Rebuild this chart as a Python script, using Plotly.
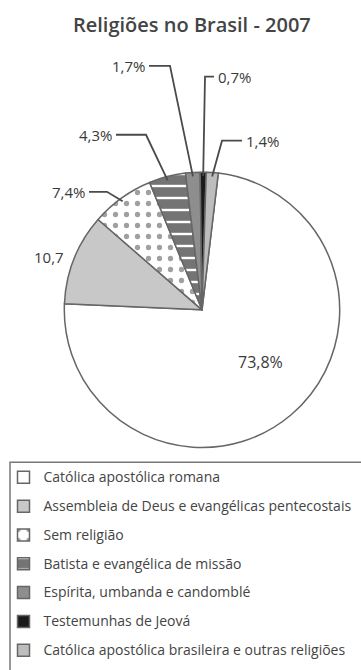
import math
import plotly.graph_objects as go

# Religiões no Brasil - 2007 (% da população)
labels = [
    "Católica apostólica romana",
    "Assembleia de Deus e evangélicas pentecostais",
    "Sem religião",
    "Batista e evangélica de missão",
    "Espírita, umbanda e candomblé",
    "Testemunhas de Jeová",
    "Católica apostólica brasileira e outras religiões",
]
values = [73.8, 10.7, 7.4, 4.3, 1.7, 0.7, 1.4]
value_suffix = ["%", "", "%", "%", "%", "%", "%"]

# slice fills
fill_colors = ["#ffffff", "#c8c8c8", "#ffffff", "#747474", "#8e8e8e", "#1a1a1a", "#bdbdbd"]
pattern_shapes = ["", "", ".", "-", "", "", ""]
pattern_fg = ["#ffffff", "#c8c8c8", "#a0a0a0", "#ffffff", "#8e8e8e", "#1a1a1a", "#bdbdbd"]

W, H = 361, 670
CX, CY, R = 202, 315, 140      # pie centre and radius (px)
ROTATION = 6.8                 # first slice starts this many degrees clockwise from 12 o'clock


def px(x):
    return x / W


def py(y):
    return 1 - y / H


# legend rows are spaced by the legend font's line height; the visible text is set smaller
legend_names = [
    f'<span style="font-size:14px; baseline-shift:3px">{l}</span>' for l in labels
]

fig = go.Figure()
fig.add_trace(go.Pie(
    labels=legend_names,
    values=values,
    sort=False,
    direction="clockwise",
    rotation=ROTATION,
    textinfo="none",
    hoverinfo="label+value",
    domain=dict(x=[px(CX - R), px(CX + R)], y=[py(CY + R), py(CY - R)]),
    marker=dict(
        colors=fill_colors,
        line=dict(color="#666666", width=1.5),
        pattern=dict(
            shape=pattern_shapes,
            bgcolor=fill_colors,
            fgcolor=pattern_fg,
            size=[10, 10, 11, 12, 10, 10, 10],
            solidity=[0.2, 0.2, 0.18, 0.2, 0.2, 0.2, 0.2],
            fillmode="replace",
        ),
    ),
))

# label placement: (anchor x, anchor y, xanchor, font size) and leader elbow (px)
label_pos = [
    (260, 368, "center", 16),
    (49, 261, "center", 15),
    (87, 195, "right", 15),
    (114, 137, "right", 15),
    (147, 67, "right", 15),
    (216, 78, "left", 15),
    (244, 143, "left", 15),
]
leaders = [
    None,
    None,
    [(89, 195), (107, 195)],
    [(116, 137), (146, 137)],
    [(149, 67), (170, 67)],
    [(214, 78), (205, 78)],
    [(242, 143), (222, 143)],
]

total = sum(values)
angle = ROTATION
annotations = []
shapes = []
for v, suf, pos, lead in zip(values, value_suffix, label_pos, leaders):
    span = 360 * v / total
    mid = math.radians(angle + span / 2)
    angle += span
    text = f"{v:.1f}".replace(".", ",") + suf
    annotations.append(dict(
        x=px(pos[0]), y=py(pos[1]), xref="paper", yref="paper",
        text=text, showarrow=False, xanchor=pos[2], yanchor="middle",
        font=dict(family="Open Sans", size=pos[3], color="#3a3a3a"),
    ))
    if lead:
        ex = CX + (R - 4) * math.sin(mid)
        ey = CY - (R - 4) * math.cos(mid)
        pts = lead + [(ex, ey)]
        path = "M " + " L ".join(f"{px(x):.5f},{py(y):.5f}" for x, y in pts)
        shapes.append(dict(type="path", path=path, xref="paper", yref="paper",
                           line=dict(color="#4a4a4a", width=1.8), layer="above"))

annotations.append(dict(
    x=px(192), y=py(25), xref="paper", yref="paper",
    text="Religiões no Brasil - 2007", showarrow=False,
    xanchor="center", yanchor="middle",
    font=dict(family="Open Sans", size=20, color="#444444", weight=600),
))

# legend frame
shapes.append(dict(type="rect", xref="paper", yref="paper",
                   x0=px(10), x1=px(420), y0=py(720), y1=py(470),
                   line=dict(color="#777777", width=1.5), fillcolor="rgba(0,0,0,0)",
                   layer="below"))

fig.update_layout(
    width=W, height=H,
    margin=dict(l=0, r=0, t=0, b=0),
    paper_bgcolor="#ffffff",
    plot_bgcolor="#ffffff",
    annotations=annotations,
    shapes=shapes,
    showlegend=True,
    legend=dict(
        x=px(3.5), y=py(465.6), xanchor="left", yanchor="top",
        font=dict(family="Open Sans", size=19.85, color="#444444"),
        bgcolor="rgba(0,0,0,0)", borderwidth=0,
        traceorder="normal",
    ),
)

fig.write_html("out.html")
